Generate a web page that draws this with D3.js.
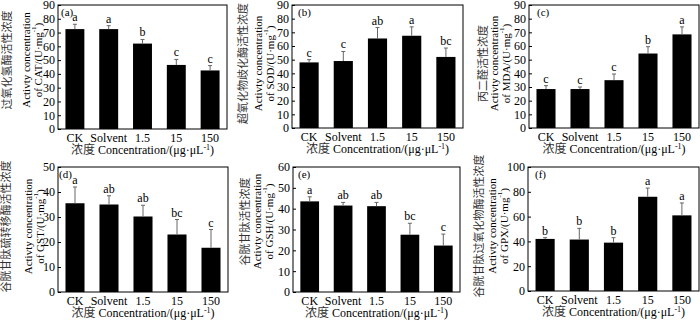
<!DOCTYPE html>
<html>
<head>
<meta charset="utf-8">
<script src="https://cdn.jsdelivr.net/npm/d3@7"></script>
<style>
  body { margin: 0; background: #fff; }
  svg text { font-family: "Liberation Serif", "Noto Sans CJK SC", serif; }
</style>
</head>
<body>
<div id="chart"></div>
<script>
  // Six enzyme panels, 5 treatments each
  const categories = ["CK", "Solvent", "1.5", "15", "150"];

  const catMean = [72.5, 72.5, 62, 46.5, 42.5];
  const catErr  = [3.5, 2.5, 3, 4, 3.5];
  const catSig  = ["a", "a", "b", "c", "c"];

  const sodMean = [48, 49, 65.5, 67.5, 52];
  const sodErr  = [2, 7, 8, 6.5, 6.5];
  const sodSig  = ["c", "c", "ab", "a", "bc"];

  const mdaMean = [28.5, 28.5, 35, 54.5, 68.5];
  const mdaErr  = [2.5, 1.5, 4.5, 5, 5.5];
  const mdaSig  = ["c", "c", "c", "b", "a"];

  const gstMean = [35.5, 35, 30.2, 23, 17.7];
  const gstErr  = [6.5, 3.5, 4.5, 6, 7.3];
  const gstSig  = ["a", "ab", "ab", "bc", "c"];

  const gshMean = [43.5, 41.5, 41.2, 27.5, 22.3];
  const gshErr  = [2.2, 1.5, 1.8, 5.5, 5.5];
  const gshSig  = ["a", "ab", "ab", "bc", "c"];

  const gpxMean = [42, 41.5, 39, 76, 61];
  const gpxErr  = [1, 9, 4, 7, 10];
  const gpxSig  = ["b", "b", "b", "a", "a"];

  const ticks90  = [0, 10, 20, 30, 40, 50, 60, 70, 80, 90];
  const ticks50  = [0, 10, 20, 30, 40, 50];
  const ticks60  = [0, 10, 20, 30, 40, 50, 60];
  const ticks100 = [0, 20, 40, 60, 80, 100];

  const panels = [
    { tag: "(a)", zh: "过氧化氢酶活性浓度", enz: "CAT", mean: catMean, err: catErr, sig: catSig, ticks: ticks90 },
    { tag: "(b)", zh: "超氧化物歧化酶活性浓度", enz: "SOD", mean: sodMean, err: sodErr, sig: sodSig, ticks: ticks90 },
    { tag: "(c)", zh: "丙二醛活性浓度", enz: "MDA", mean: mdaMean, err: mdaErr, sig: mdaSig, ticks: ticks90 },
    { tag: "(d)", zh: "谷胱甘肽硫转移酶活性浓度", enz: "GST", mean: gstMean, err: gstErr, sig: gstSig, ticks: ticks50 },
    { tag: "(e)", zh: "谷胱甘肽活性浓度", enz: "GSH", mean: gshMean, err: gshErr, sig: gshSig, ticks: ticks60 },
    { tag: "(f)", zh: "谷胱甘肽过氧化物酶活性浓度", enz: "GPX", mean: gpxMean, err: gpxErr, sig: gpxSig, ticks: ticks100 }
  ];

  // frame boxes + label offsets (layout only)
  const layout = [
    { x0: 58,  x1: 227, y0: 5,   y1: 129, tagDx: 3, zhDx: -51, l1Dx: -32, l2Dx: -20, cyOff: -7 },
    { x0: 292, x1: 463, y0: 5,   y1: 128, tagDx: 6, zhDx: -49, l1Dx: -34, l2Dx: -22, cyOff: -3 },
    { x0: 529, x1: 699, y0: 5,   y1: 128, tagDx: 8, zhDx: -46, l1Dx: -35, l2Dx: -23, cyOff: -3 },
    { x0: 58,  x1: 228, y0: 167, y1: 292, tagDx: 1, zhDx: -52, l1Dx: -30, l2Dx: -18, cyOff: -3 },
    { x0: 293, x1: 460, y0: 167, y1: 292, tagDx: 5, zhDx: -48, l1Dx: -36, l2Dx: -24, cyOff: -8 },
    { x0: 528, x1: 699, y0: 167, y1: 291, tagDx: 7, zhDx: -49, l1Dx: -36, l2Dx: -24, cyOff: -3 }
  ];

  const svg = d3.select("#chart").append("svg")
    .attr("width", 700).attr("height", 320);

  panels.forEach((p, i) => {
    const L = layout[i];
    const w = L.x1 - L.x0, h = L.y1 - L.y0;
    const g = svg.append("g").attr("transform", `translate(${L.x0},${L.y0})`);

    const rows = categories.map((c, j) => ({ cat: c, mean: p.mean[j], err: p.err[j], sig: p.sig[j] }));

    const x = d3.scaleBand().domain(categories).range([0, w])
      .paddingInner(0.44).paddingOuter(0.22);
    const y = d3.scaleLinear().domain([0, d3.max(p.ticks)]).range([h, 0]);

    // bars
    g.selectAll(".bar").data(rows).join("rect")
      .attr("x", d => x(d.cat)).attr("width", x.bandwidth())
      .attr("y", d => y(d.mean)).attr("height", d => h - y(d.mean))
      .attr("fill", "#000");

    // error bars (upper only)
    g.selectAll(".eb").data(rows).join("line")
      .attr("x1", d => x(d.cat) + x.bandwidth() / 2).attr("x2", d => x(d.cat) + x.bandwidth() / 2)
      .attr("y1", d => y(d.mean)).attr("y2", d => y(d.mean + d.err))
      .attr("stroke", "#666").attr("stroke-width", 1);
    g.selectAll(".cap").data(rows).join("line")
      .attr("x1", d => x(d.cat) + x.bandwidth() / 2 - 2).attr("x2", d => x(d.cat) + x.bandwidth() / 2 + 2)
      .attr("y1", d => y(d.mean + d.err)).attr("y2", d => y(d.mean + d.err))
      .attr("stroke", "#666").attr("stroke-width", 1);

    // significance letters
    g.selectAll(".sig").data(rows).join("text")
      .attr("x", d => x(d.cat) + x.bandwidth() / 2)
      .attr("y", d => y(d.mean + d.err) - 3)
      .attr("text-anchor", "middle")
      .style("font-size", "12px")
      .text(d => d.sig);

    // frame
    g.append("rect").attr("width", w).attr("height", h)
      .attr("fill", "none").attr("stroke", "#000").attr("stroke-width", 1);

    // axes
    const ya = g.append("g")
      .call(d3.axisLeft(y).tickValues(p.ticks).tickSizeInner(-3).tickSizeOuter(0).tickPadding(3));
    ya.select(".domain").remove();
    ya.selectAll("text").style("font-size", "12px").attr("fill", "#000");

    const xa = g.append("g").attr("transform", `translate(0,${h})`)
      .call(d3.axisBottom(x).tickSize(0).tickPadding(4));
    xa.select(".domain").remove();
    xa.selectAll("text").style("font-size", "12px").attr("fill", "#000");

    // panel tag
    g.append("text").attr("x", L.tagDx).attr("y", 11)
      .style("font-size", "11px").text(p.tag);

    // x title
    const xt = g.append("text").attr("x", w / 2).attr("y", h + 25)
      .attr("text-anchor", "middle").style("font-size", "12px");
    xt.append("tspan").attr("fill", "#333").text("浓度 ");
    xt.append("tspan").text("Concentration/(μg·μL");
    xt.append("tspan").attr("dy", -4).style("font-size", "8px").text("-1");
    xt.append("tspan").attr("dy", 4).text(")");

    // y title, three rotated lines
    const cy = h / 2 + L.cyOff;
    g.append("text")
      .attr("transform", `translate(${L.zhDx},${cy}) rotate(-90)`)
      .attr("text-anchor", "middle").attr("dominant-baseline", "central")
      .attr("fill", "#333").style("font-size", "11px")
      .text(p.zh);
    g.append("text")
      .attr("transform", `translate(${L.l1Dx},${cy}) rotate(-90)`)
      .attr("text-anchor", "middle").attr("dominant-baseline", "central")
      .style("font-size", "11px")
      .text("Activty concentration");
    const l2 = g.append("text")
      .attr("transform", `translate(${L.l2Dx},${cy}) rotate(-90)`)
      .attr("text-anchor", "middle").attr("dominant-baseline", "central")
      .style("font-size", "11px");
    l2.append("tspan").text(`of ${p.enz}/(U·mg`);
    l2.append("tspan").attr("dy", -4).style("font-size", "7px").text("-1");
    l2.append("tspan").attr("dy", 4).text(")");
  });
</script>
</body>
</html>
